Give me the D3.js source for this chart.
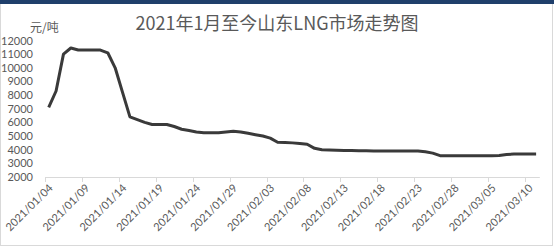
<!DOCTYPE html>
<html>
<head>
<meta charset="utf-8">
<script src="https://cdn.jsdelivr.net/npm/d3@7"></script>
<style>
    body { margin: 0; background: #fff; }
    .axis text { font-family: Lato, "Liberation Sans", sans-serif; font-size: 11px; fill: #595959; }
    .axis path, .axis line { stroke: #d9d9d9; }
    .line { fill: none; stroke: #3a3a3a; stroke-width: 3; stroke-linejoin: round; }
</style>
</head>
<body>
<div id="chartArea"></div>
<script>
// Daily prices, 2021/01/04 to 2021/03/11 (yuan per tonne)
let dates = [];
let start = new Date(2021, 0, 4);
for (let i = 0; i < 67; i++) {
    let d = new Date(start.getFullYear(), start.getMonth(), start.getDate() + i);
    dates.push(d3.timeFormat('%Y/%m/%d')(d));
}

let prices = [
    7100, 8300, 11000, 11450, 11300, 11300, 11300, 11300, 11100, 10000,
    8200, 6400, 6200, 6000, 5850, 5850, 5850, 5700, 5500, 5400,
    5300, 5250, 5250, 5250, 5300, 5350, 5300, 5200, 5100, 5000,
    4850, 4550, 4520, 4500, 4450, 4400, 4100, 4000, 3980, 3960,
    3950, 3940, 3930, 3920, 3910, 3900, 3900, 3900, 3900, 3900,
    3900, 3850, 3750, 3560, 3560, 3560, 3560, 3560, 3560, 3560,
    3560, 3580, 3650, 3680, 3680, 3680, 3680
];

let yTicks = [2000, 3000, 4000, 5000, 6000, 7000, 8000, 9000, 10000, 11000, 12000];

let title = '2021年1月至今山东LNG市场走势图';
let unit = '元/吨';

let width = 554, height = 247;

let svg = d3.select('#chartArea')
    .append('svg')
        .attr('width', width)
        .attr('height', height);

// frame
svg.append('rect')
    .attr('x', 0.5).attr('y', 0.5)
    .attr('width', width - 2).attr('height', height - 2)
    .attr('fill', '#fff')
    .attr('stroke', '#d9d9d9');
svg.append('rect')
    .attr('x', 0).attr('y', 0)
    .attr('width', width).attr('height', 4)
    .attr('fill', '#1f3f6b');

svg.append('text')
    .attr('x', 277).attr('y', 30)
    .attr('text-anchor', 'middle')
    .attr('font-family', '"Noto Sans CJK SC", sans-serif')
    .attr('font-size', 18)
    .attr('fill', '#595959')
    .text(title);

svg.append('text')
    .attr('x', 30).attr('y', 32)
    .attr('font-family', '"Noto Sans CJK SC", sans-serif')
    .attr('font-size', 12)
    .attr('fill', '#595959')
    .text(unit);

let xScale = d3.scaleBand()
    .domain(dates)
    .range([45, 539.8]);

let yScale = d3.scaleLinear()
    .domain([2000, 12000])
    .range([177, 40.5]);

// y axis labels only
let yAxis = svg.append('g')
    .attr('class', 'y axis')
    .attr('transform', 'translate(35,0)')
    .call(d3.axisLeft(yScale).tickValues(yTicks).tickSize(0).tickPadding(2).tickFormat(d3.format('d')));
yAxis.select('.domain').remove();

// x axis
let xAxis = svg.append('g')
    .attr('class', 'x axis')
    .attr('transform', 'translate(0,' + yScale(2000) + ')');

xAxis.append('line')
    .attr('x1', xScale.range()[0]).attr('x2', xScale.range()[1])
    .attr('y1', 0.5).attr('y2', 0.5);

let labelDates = dates.filter((d, i) => i % 5 === 0);

xAxis.selectAll('.tickmark')
    .data(labelDates)
    .enter().append('line')
        .attr('class', 'tickmark')
        .attr('x1', d => Math.round(xScale(d)) + 0.5)
        .attr('x2', d => Math.round(xScale(d)) + 0.5)
        .attr('y1', 0).attr('y2', 5);

xAxis.selectAll('.ticklabel')
    .data(labelDates)
    .enter().append('text')
        .attr('class', 'ticklabel')
        .attr('text-anchor', 'end')
        .attr('transform', d => 'translate(' + (xScale(d) + xScale.bandwidth() / 2 + 2) + ',9) rotate(-45)')
        .attr('dy', '0.35em')
        .text(d => d);

let line = d3.line()
    .x((d, i) => xScale(dates[i]) + xScale.bandwidth() / 2)
    .y(d => yScale(d));

svg.append('path')
    .attr('class', 'line')
    .attr('d', line(prices));
</script>
</body>
</html>
